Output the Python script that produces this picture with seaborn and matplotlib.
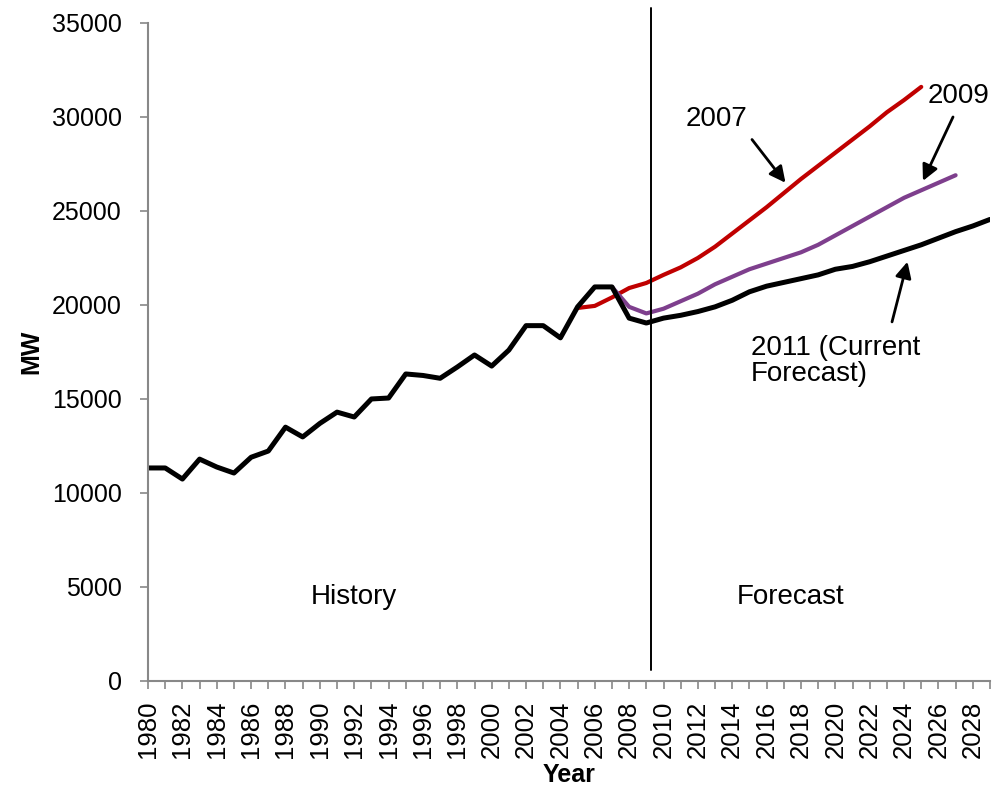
import matplotlib
matplotlib.use("Agg")
import matplotlib.pyplot as plt
import seaborn as sns
import pandas as pd
import numpy as np

# ---------------------------------------
# DATA (MW peak demand)
# ---------------------------------------

years_actual = list(range(1980, 2030))
load_2011 = [11330, 11330, 10740, 11800, 11380, 11060, 11900, 12230, 13500, 12980,
             13700, 14300, 14040, 15000, 15050, 16330, 16250, 16100, 16700, 17340,
             16750, 17600, 18900, 18900, 18250, 19900, 20960, 20960, 19300, 19040,
             19300, 19450, 19650, 19900, 20250, 20700, 21000, 21200, 21400, 21600,
             21900, 22050, 22300, 22600, 22900, 23200, 23550, 23900, 24200, 24550]

years_2007 = list(range(2005, 2026))
load_2007 = [19840, 19950, 20400, 20900, 21170, 21600, 22000, 22500, 23100, 23800,
             24500, 25200, 25950, 26700, 27400, 28100, 28800, 29500, 30250, 30900,
             31600]

years_2009 = list(range(2007, 2028))
load_2009 = [20960, 19900, 19550, 19800, 20200, 20600, 21100, 21500, 21900, 22200,
             22500, 22800, 23200, 23700, 24200, 24700, 25200, 25700, 26100, 26500,
             26900]

forecast_start = 2009.25

df_2011 = pd.DataFrame({"Year": years_actual, "MW": load_2011})
df_2007 = pd.DataFrame({"Year": years_2007, "MW": load_2007})
df_2009 = pd.DataFrame({"Year": years_2009, "MW": load_2009})

# ---------------------------------------
# STYLE
# ---------------------------------------

sns.set_style("ticks")
plt.rcParams["font.family"] = ["Liberation Sans", "DejaVu Sans"]
plt.rcParams["text.color"] = "black"
plt.rcParams["axes.labelcolor"] = "black"

fig = plt.figure(figsize=(10.03, 7.92), dpi=100)
ax = fig.add_axes([0.1476, 0.1402, 0.987 - 0.1476, 0.971 - 0.1402])

red = "#C00000"
purple = "#7E3F8D"

sns.lineplot(data=df_2007, x="Year", y="MW", color=red, linewidth=3.0, ax=ax)
sns.lineplot(data=df_2009, x="Year", y="MW", color=purple, linewidth=3.0, ax=ax)
sns.lineplot(data=df_2011, x="Year", y="MW", color="black", linewidth=3.6, ax=ax)

ax.set_xlim(1980, 2029)
ax.set_ylim(0, 35000)
ax.set_yticks(np.arange(0, 35001, 5000))
ax.set_xticks(years_actual[::2])
ax.set_xticks(years_actual, minor=True)
ax.set_xticklabels([str(y) for y in years_actual[::2]], rotation=90, fontsize=18.5)
ax.tick_params(axis="y", labelsize=18, color="#888888", length=6, width=1.2,
               labelcolor="black", pad=13)
ax.tick_params(axis="x", which="both", color="#888888", length=6, width=1.2,
               labelcolor="black", pad=8)

for side in ["top", "right"]:
    ax.spines[side].set_visible(False)
for side in ["left", "bottom"]:
    ax.spines[side].set_color("#888888")
    ax.spines[side].set_linewidth(1.5)

ax.set_xlabel("Year", fontsize=18, fontweight="bold", labelpad=4)
ax.set_ylabel("MW", fontsize=18, fontweight="bold", labelpad=6)

# divider between history and forecast
ax.axvline(forecast_start, ymin=0.0167, ymax=1.0228, color="black",
           linewidth=1.4, clip_on=False)

ax.text(1992.0, 4470, "History", fontsize=20, ha="center", va="center")
ax.text(2017.4, 4470, "Forecast", fontsize=20, ha="center", va="center")

ax.text(2013.1, 29900, "2007", fontsize=20, ha="center", va="center")
ax.text(2027.2, 31100, "2009", fontsize=20, ha="center", va="center")
ax.text(2015.1, 17000, "2011 (Current\nForecast)", fontsize=20,
        ha="left", va="center", linespacing=1.0)

arrow = dict(arrowstyle="-|>", color="black", linewidth=2, mutation_scale=24,
             shrinkA=0, shrinkB=0)
ax.annotate("", xy=(2017.1, 26500), xytext=(2015.15, 28800), arrowprops=arrow)
ax.annotate("", xy=(2025.1, 26600), xytext=(2026.85, 30000), arrowprops=arrow)
ax.annotate("", xy=(2024.2, 22300), xytext=(2023.3, 19100), arrowprops=arrow)

plt.savefig("out.png", dpi=100)
